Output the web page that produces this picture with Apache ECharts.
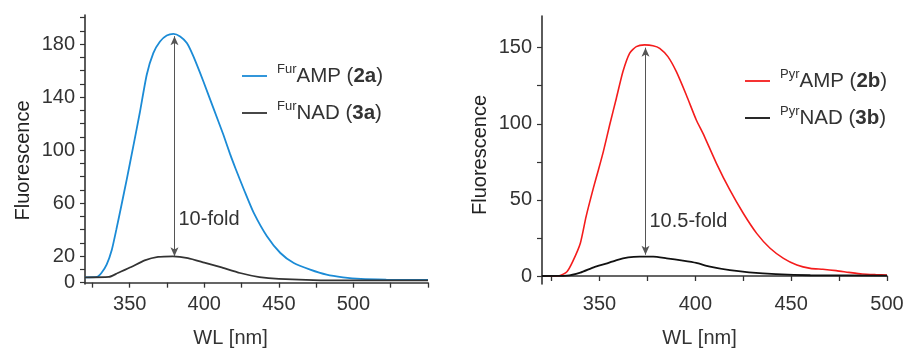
<!DOCTYPE html>
<html>
<head>
<meta charset="utf-8">
<script src="https://cdn.jsdelivr.net/npm/echarts@6/dist/echarts.min.js"></script>
<style>
html,body{margin:0;padding:0;background:#fff;}
#c{width:907px;height:354px;}
</style>
</head>
<body>
<div id="c"></div>
<script>
// ---- Data ----
const furAMPx = [320,328,331,334.5,338,341,344.5,348,352.4,356.9,361.4,365.8,370.3,374.8,379.3,383.8,388.3,392.7,399.4,406.1,412.8,417.3,421,427,433,442,451,460,471,482,493,505,522,550];
const furAMPy = [4.0,4.3,7.3,13.6,24.9,40,58.8,78,103,129.2,156.9,173.2,182,186.5,187.8,185.8,180.8,170.7,151.8,131.7,111.6,97,86,69,53,35,22.4,14.8,9.8,6.0,4.0,2.8,2.3,2.0];
const furNADx = [320,336,342,351,360,369,379,389,400,411,424,437,450,478,509,550];
const furNADy = [4.0,4.3,7.3,11.8,16.8,19.4,19.9,18.6,15.2,11.7,7.3,4.2,2.8,1.8,1.7,1.7];
const pyrAMPx = [320,329,333,336,340,343,347,349.5,352,355.3,358.8,362.2,365.7,369.2,373.5,377.9,381.4,385.7,390.1,395.3,400.5,404,411,418,425,432,439,446,453,460,466.5,473.5,480,487,494,500];
const pyrAMPy = [0,0.2,2.8,9.4,21.5,39,58.7,70,81.7,99.2,116.8,134.2,146.3,150.7,151.8,151.3,149.6,144.1,134.2,118.9,102.5,93.7,74,56.5,41.2,28,18.2,11.6,7.2,5.0,4.4,3.5,2.4,1.3,0.9,0.7];
const pyrNADx = [320,333,340,347,354,359,365,371,378,385,393.5,400.5,407,418,428,442,460,500];
const pyrNADy = [0,0.2,2.2,5.7,8.3,10.5,12.2,12.7,12.7,11.6,10.1,8.6,6.3,3.8,2.4,1.2,0.5,0.3];

const leftXLabels = [350,400,450,500];
const leftXTicks = [325,350,375,400,425,450,475,500,525,550];
const leftYLabels = [0,20,60,100,140,180];
const leftYTicks = [0,10,20,30,40,50,60,70,80,90,100,110,120,130,140,150,160,170,180,190,200];
const rightXLabels = [350,400,450,500];
const rightXTicks = [325,350,375,400,425,450,475,500];
const rightYLabels = [0,50,100,150];
const rightYTicks = [0,25,50,75,100,125,150];

const leftArrow = {x:380, top:186, bottom:20, textY:48, text:'10-fold'};
const rightArrow = {x:374, top:150, bottom:14, textY:36, text:'10.5-fold'};

const pairs = (xs, ys) => xs.map((x,i)=>[x, ys[i]]);

const FONT = 'Liberation Sans, Arial, Helvetica, sans-serif';
const AX = '#333';

function mainX(grid, min, max, labels, ticks, name, namePad){
  return {
    type:'value', gridIndex:grid, min:min, max:max, position:'bottom',
    axisLine:{show:true, lineStyle:{color:AX, width:1.6}},
    axisTick:{show:true, customValues:ticks, length:5, lineStyle:{color:AX, width:1.3}},
    axisLabel:{customValues:labels, color:'#333', fontSize:20, fontFamily:FONT, margin:10},
    splitLine:{show:false},
    name:name, nameLocation:'middle', nameGap:44,
    nameTextStyle:{color:'#333', fontSize:20, fontFamily:FONT, padding:namePad}
  };
}
function mainY(grid, min, max, labels, ticks, namePad){
  return {
    type:'value', gridIndex:grid, min:min, max:max, position:'left',
    axisLine:{show:true, lineStyle:{color:AX, width:1.6}},
    axisTick:{show:true, customValues:ticks, length:5, lineStyle:{color:AX, width:1.2}},
    axisLabel:{customValues:labels, color:'#333', fontSize:20, fontFamily:FONT, margin:10},
    splitLine:{show:false},
    name:'Fluorescence', nameLocation:'middle', nameGap:52,
    nameTextStyle:{color:'#222', fontSize:20, fontFamily:FONT, padding:namePad}
  };
}

const rich = {
  sup:{fontSize:13, fontFamily:FONT, color:'#333', verticalAlign:'top', lineHeight:14, padding:[0,0,0,5]},
  b:{fontSize:20.5, fontFamily:FONT, color:'#333', fontWeight:'bold', lineHeight:26}
};
const legendText = {
  'FurAMP (2a)':'{sup|Fur}AMP ({b|2a})',
  'FurNAD (3a)':'{sup|Fur}NAD ({b|3a})',
  'PyrAMP (2b)':'{sup|Pyr}AMP ({b|2b})',
  'PyrNAD (3b)':'{sup|Pyr}NAD ({b|3b})'
};
function legend(name, left, top){
  return {
    data:[name], left:left, top:top, orient:'vertical', padding:0,
    icon:'rect', itemWidth:25, itemHeight:1.8, selectedMode:false,
    formatter:(n)=>legendText[n],
    textStyle:{fontSize:20.5, fontFamily:FONT, color:'#333', lineHeight:26, rich:rich}
  };
}

function arrowMark(a){
  return {
    silent:true, symbol:['arrow','arrow'], symbolSize:[6,9],
    lineStyle:{color:'#555', width:1, type:'solid'},
    label:{show:false},
    data:[[{coord:[a.x,a.top]},{coord:[a.x,a.bottom]}]]
  };
}
function textMark(a){
  return {
    silent:true, symbol:'circle', symbolSize:0,
    label:{show:true, position:'right', distance:4, formatter:a.text, color:'#333', fontSize:20, fontFamily:FONT},
    data:[{coord:[a.x, a.textY]}]
  };
}

function lineSeries(name, xi, yi, data, color, width, extra){
  return Object.assign({
    name:name, type:'line', xAxisIndex:xi, yAxisIndex:yi, data:data,
    smooth:0.2, symbol:'none', showSymbol:false,
    lineStyle:{color:color, width:width}, itemStyle:{color:color}
  }, extra || {});
}

const option = {
  animation:false,
  textStyle:{fontFamily:FONT},
  grid:[
    {left:85, top:15, width:343, height:269},
    {left:542, top:16, width:345, height:268}
  ],
  xAxis:[
    mainX(0,320,550,leftXLabels,leftXTicks,'WL [nm]',[0,52,0,0]),
    mainX(1,320,500,rightXLabels,rightXTicks,'WL [nm]',[0,30,0,0])
  ],
  yAxis:[
    mainY(0,-1,202,leftYLabels,leftYTicks,[0,22,0,0]),
    mainY(1,-5.26,170.8,rightYLabels,rightYTicks,[0,10,0,0])
  ],
  legend:[
    legend('FurAMP (2a)',242,63),
    legend('FurNAD (3a)',242,100),
    legend('PyrAMP (2b)',745,68),
    legend('PyrNAD (3b)',745,105)
  ],
  series:[
    lineSeries('FurAMP (2a)',0,0,pairs(furAMPx,furAMPy),'#1b8bd6',1.8,
      {markLine:arrowMark(leftArrow), markPoint:textMark(leftArrow)}),
    lineSeries('FurNAD (3a)',0,0,pairs(furNADx,furNADy),'#333333',1.8),
    lineSeries('PyrAMP (2b)',1,1,pairs(pyrAMPx,pyrAMPy),'#f41c1c',1.6,
      {markLine:arrowMark(rightArrow), markPoint:textMark(rightArrow)}),
    lineSeries('PyrNAD (3b)',1,1,pairs(pyrNADx,pyrNADy),'#111111',1.8)
  ]
};

const chart = echarts.init(document.getElementById('c'), null, {renderer:'canvas'});
chart.setOption(option);
</script>
</body>
</html>
